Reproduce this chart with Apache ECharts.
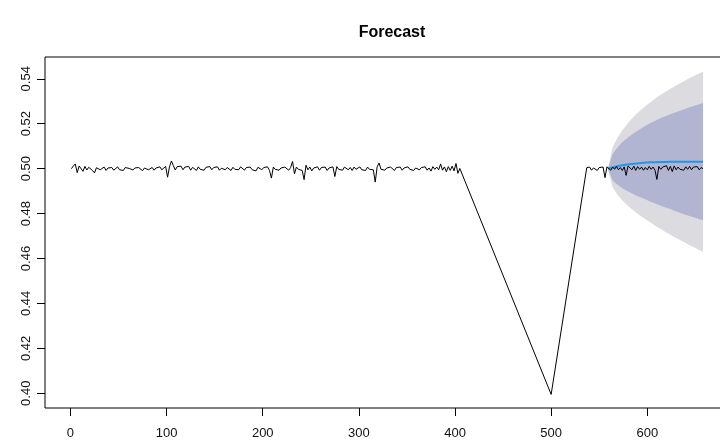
<!DOCTYPE html>
<html>
<head>
<meta charset="utf-8">
<script src="https://cdn.jsdelivr.net/npm/echarts@6/dist/echarts.min.js"></script>
<style>
  html, body { margin: 0; padding: 0; background: #fff; }
  #chart { width: 720px; height: 441px; }
</style>
</head>
<body>
<div id="chart"></div>
<script>
// ---------- DATA ----------
const titleText = 'Forecast';
const xTicks = [0, 100, 200, 300, 400, 500, 600];
const yTicks = [0.40, 0.42, 0.44, 0.46, 0.48, 0.50, 0.52, 0.54];

// observed series, first flat part: t = 1, 3, 5, ..., 403
const flatAStart = 1, flatAStep = 2;
const flatAValues = [
  0.5000, 0.5012, 0.5021, 0.4982, 0.5012, 0.5019, 0.4988, 0.5010, 0.4994, 0.5006,
  0.5002, 0.4991, 0.4981, 0.5004, 0.5008, 0.4995, 0.5001, 0.5007, 0.4992, 0.5003,
  0.4997, 0.5005, 0.4993, 0.5001, 0.5008, 0.4995, 0.5003, 0.4992, 0.5005, 0.4997,
  0.5001, 0.5007, 0.4994, 0.5003, 0.4995, 0.5005, 0.4997, 0.4991, 0.5003, 0.5007,
  0.4995, 0.5001, 0.5005, 0.4993, 0.5003, 0.4997, 0.5008, 0.4995, 0.4988, 0.5010,
  0.4962, 0.5008, 0.5034, 0.5014, 0.4994, 0.5009, 0.5001, 0.5011, 0.4995, 0.5007,
  0.5000, 0.5010, 0.4993, 0.5006, 0.5001, 0.4992, 0.5008, 0.4997, 0.5005, 0.4993,
  0.5006, 0.4999, 0.5009, 0.4995, 0.5005, 0.4997, 0.5008, 0.4993, 0.5002, 0.5007,
  0.4995, 0.5005, 0.5000, 0.4992, 0.5006, 0.4997, 0.5003, 0.4995, 0.5008, 0.5000,
  0.4993, 0.5005, 0.4997, 0.5007, 0.4995, 0.5003, 0.4990, 0.5006, 0.5000, 0.4995,
  0.5005, 0.4997, 0.5008, 0.4992, 0.4958, 0.5007, 0.4997, 0.5005, 0.4993, 0.5003,
  0.4995, 0.5007, 0.5000, 0.4993, 0.5005, 0.5032, 0.4977, 0.5007, 0.4997, 0.5003,
  0.4992, 0.4951, 0.5015, 0.4995, 0.5007, 0.4990, 0.5003, 0.4997, 0.5008, 0.4993,
  0.5005, 0.4997, 0.5007, 0.4992, 0.5003, 0.4995, 0.5008, 0.4965, 0.5009, 0.4997,
  0.5003, 0.4993, 0.5007, 0.5000, 0.4995, 0.5005, 0.4992, 0.5007, 0.4997, 0.5003,
  0.5008, 0.4995, 0.5003, 0.4992, 0.5007, 0.4997, 0.5005, 0.4995, 0.4940, 0.5008,
  0.5025, 0.4997, 0.5005, 0.4993, 0.5003, 0.4995, 0.5007, 0.5000, 0.4992, 0.5005,
  0.4997, 0.5007, 0.4993, 0.5003, 0.4995, 0.5008, 0.4997, 0.5005, 0.4992, 0.5003,
  0.5007, 0.4995, 0.5005, 0.4997, 0.5008, 0.4993, 0.5003, 0.4989, 0.5009, 0.4997,
  0.5007, 0.4995, 0.5021, 0.4993, 0.5008, 0.4986, 0.5009, 0.4992, 0.5011, 0.4990,
  0.5023, 0.4979
];

// the drop and recovery
const dropTimes  = [405, 500, 537];
const dropValues = [0.5001, 0.3995, 0.5004];

// observed series, second flat part: t = 538, 540, ..., 658
const flatBStart = 538, flatBStep = 2;
const flatBValues = [
  0.4996, 0.5007, 0.4993, 0.5003, 0.5008, 0.4992, 0.5005, 0.4997, 0.5007, 0.4960,
  0.5008, 0.5000, 0.4993, 0.5007, 0.4997, 0.5010, 0.4995, 0.5005, 0.4992, 0.5008,
  0.4970, 0.5012, 0.5007, 0.4995, 0.5011, 0.4992, 0.5009, 0.4997, 0.5007, 0.4993,
  0.5005, 0.4995, 0.5010, 0.4997, 0.5007, 0.4993, 0.4952, 0.5010, 0.4997, 0.5007,
  0.5002, 0.5013, 0.4992, 0.5010, 0.4987, 0.5012, 0.4995, 0.5007, 0.4997, 0.5005,
  0.4993, 0.5008, 0.4997, 0.5010, 0.4995, 0.5007, 0.5000, 0.5009, 0.4995, 0.5005,
  0.5000
];

// forecast
const fcTimes  = [559, 564, 569, 574, 579, 584, 589, 594, 599, 604, 609, 614, 619, 624, 629, 634, 639, 644, 649, 654, 658];
const fcMean   = [0.5000, 0.5006, 0.5011, 0.5015, 0.5018, 0.5021, 0.5023, 0.5025, 0.5027, 0.5028, 0.5029, 0.5030, 0.5030, 0.5031, 0.5031, 0.5031, 0.5031, 0.5031, 0.5031, 0.5031, 0.5031];
const fcUpper95 = [0.5000, 0.5096, 0.5138, 0.5171, 0.5198, 0.5223, 0.5244, 0.5263, 0.5282, 0.5298, 0.5314, 0.5329, 0.5342, 0.5356, 0.5368, 0.5380, 0.5391, 0.5403, 0.5413, 0.5424, 0.5432];
const fcLower95 = [0.5000, 0.4916, 0.4884, 0.4859, 0.4838, 0.4819, 0.4802, 0.4787, 0.4772, 0.4758, 0.4744, 0.4731, 0.4718, 0.4706, 0.4694, 0.4682, 0.4671, 0.4659, 0.4649, 0.4638, 0.4630];
const fcUpper80 = [0.5000, 0.5065, 0.5094, 0.5117, 0.5135, 0.5152, 0.5167, 0.5180, 0.5193, 0.5204, 0.5214, 0.5225, 0.5233, 0.5242, 0.5250, 0.5258, 0.5266, 0.5273, 0.5280, 0.5287, 0.5292];
const fcLower80 = [0.5000, 0.4947, 0.4928, 0.4913, 0.4901, 0.4890, 0.4879, 0.4870, 0.4861, 0.4852, 0.4844, 0.4835, 0.4827, 0.4820, 0.4812, 0.4804, 0.4796, 0.4789, 0.4782, 0.4775, 0.4770];

// ---------- BUILD ----------
const observed = [];
flatAValues.forEach((v, i) => observed.push([flatAStart + i * flatAStep, v]));
dropTimes.forEach((t, i) => observed.push([t, dropValues[i]]));
flatBValues.forEach((v, i) => observed.push([flatBStart + i * flatBStep, v]));

const meanData = fcTimes.map((t, i) => [t, fcMean[i]]);

function bandPoints(api, upper, lower) {
  const pts = [];
  for (let i = 0; i < fcTimes.length; i++) pts.push(api.coord([fcTimes[i], upper[i]]));
  for (let i = fcTimes.length - 1; i >= 0; i--) pts.push(api.coord([fcTimes[i], lower[i]]));
  return pts;
}

const FONT = '"Liberation Sans", Arial, Helvetica, sans-serif';

const chart = echarts.init(document.getElementById('chart'), null, { renderer: 'canvas' });
chart.setOption({
  animation: false,
  backgroundColor: '#ffffff',
  title: {
    text: titleText,
    left: 387,
    textAlign: 'center',
    top: 20,
    textStyle: { fontFamily: FONT, fontSize: 16, fontWeight: 'bold', color: '#000' }
  },
  grid: {
    left: 45, top: 57, width: 684, height: 351,
    outerBoundsMode: 'none',
    containLabel: false,
    show: true, borderColor: '#000', borderWidth: 1, backgroundColor: 'transparent'
  },
  xAxis: {
    type: 'value', min: -26.5, max: 685,
    splitLine: { show: false },
    axisLine: { show: false, onZero: false },
    axisTick: { show: true, length: 8, customValues: xTicks, lineStyle: { color: '#000' } },
    axisLabel: { customValues: xTicks, margin: 19, fontFamily: FONT, fontSize: 13, color: '#111' }
  },
  yAxis: {
    type: 'value', min: 0.39345, max: 0.5497,
    splitLine: { show: false },
    axisLine: { show: false, onZero: false },
    axisTick: { show: true, length: 8, customValues: yTicks, lineStyle: { color: '#000' } },
    axisLabel: {
      customValues: yTicks, rotate: 90, margin: 12,
      fontFamily: FONT, fontSize: 13, color: '#111',
      formatter: v => Number(v).toFixed(2)
    }
  },
  series: [
    {
      type: 'custom',
      data: [[fcTimes[0], fcMean[0]]],
      z: 1,
      silent: true,
      renderItem: function (params, api) {
        return {
          type: 'group',
          children: [
            { type: 'polygon', shape: { points: bandPoints(api, fcUpper95, fcLower95) }, style: { fill: '#DBDBE0' } },
            { type: 'polygon', shape: { points: bandPoints(api, fcUpper80, fcLower80) }, style: { fill: '#B1B5D1' } }
          ]
        };
      }
    },
    {
      type: 'line', data: meanData, showSymbol: false, symbol: 'none', z: 2,
      lineStyle: { color: '#2297E6', width: 2 }
    },
    {
      type: 'line', data: observed, showSymbol: false, symbol: 'none', z: 3,
      lineStyle: { color: '#000', width: 1 }
    }
  ]
});
</script>
</body>
</html>
